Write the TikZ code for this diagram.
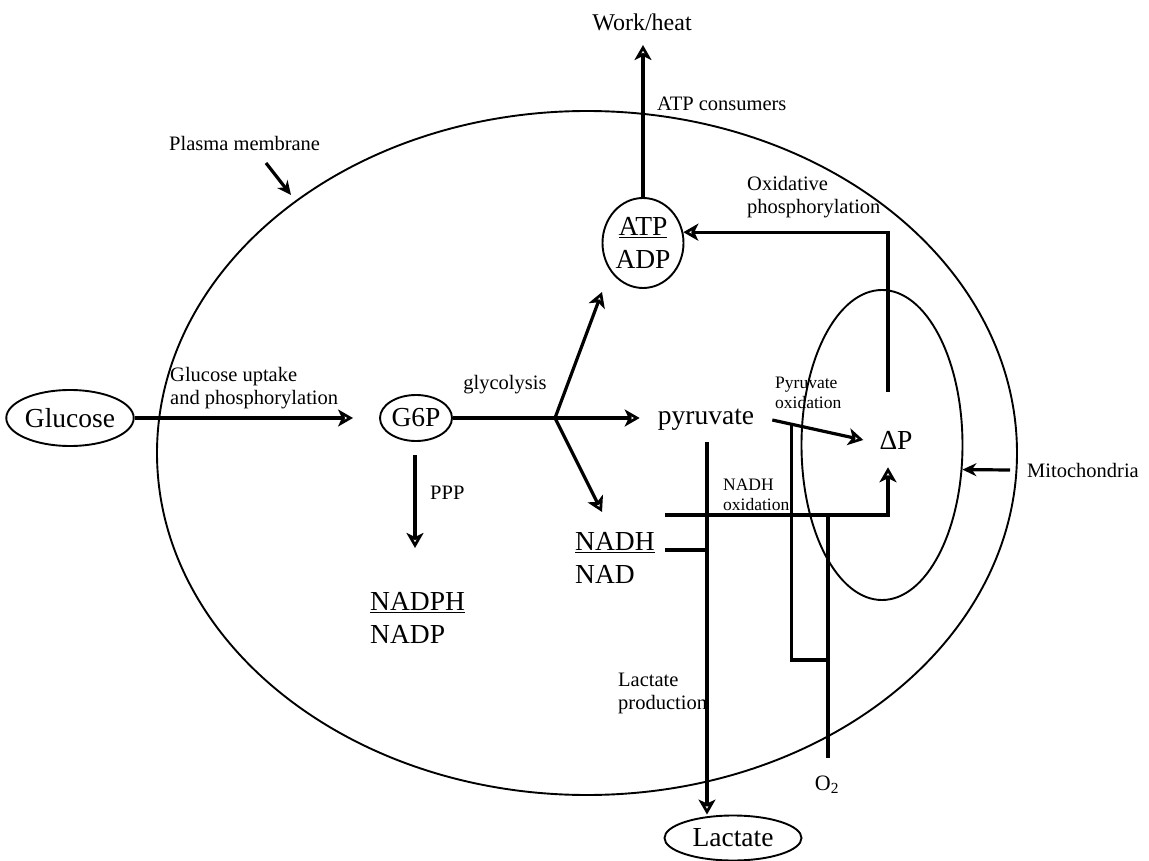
\documentclass[tikz,border=0pt]{standalone}
\usepackage{fontspec}
\setmainfont{Liberation Serif}
\usetikzlibrary{arrows.meta,shapes.geometric,calc}
\begin{document}
\begin{tikzpicture}[x=1pt,y=-1pt,
  ell/.style={draw, ellipse, line width=1.9pt, inner sep=0pt},
  big/.style={font=\fontsize{27.5}{33}\selectfont},
  lab/.style={font=\fontsize{20.5}{23}\selectfont, align=left, inner sep=0pt},
  sml/.style={font=\fontsize{17.5}{20}\selectfont, align=left, inner sep=0pt},
  conn/.style={line width=3.2pt},
  arr/.style={conn, -{Stealth[open,length=15pt,width=17pt,inset=4pt]}},
  farr/.style={conn, -{Stealth[length=14pt,width=13pt]}},
]
\useasboundingbox (0,0) rectangle (1149,861);

% membranes
\node[ell, minimum width=860pt, minimum height=684pt] (pm) at (587,453) {};
\node[ell, minimum width=161pt, minimum height=310pt] (mito) at (882,445) {};

% main nodes
\node[ell, big, minimum width=120pt, minimum height=56pt] (glc) at (70,418) {Glucose};
\node[ell, big, minimum width=72pt, minimum height=46pt] (g6p) at (416,418) {G6P};
\node[ell, big, align=center, minimum width=81pt, minimum height=90pt] (atp) at (643,243) {\underline{ATP}\\ADP};
\node[ell, big, minimum width=137pt, minimum height=45pt] (lac) at (733,838) {Lactate};
\node[big, inner xsep=18pt, inner ysep=0pt] (pyr) at (706,420) {pyruvate};
\node[big, inner xsep=16pt, inner ysep=18pt] (dp) at (896,440) {ΔP};
\node[big, align=left, anchor=west, inner sep=0pt] (nadph) at (370,618) {\underline{NADPH}\\NADP};
\node[big, align=left, anchor=west, inner sep=0pt] (nadh) at (575,558) {\underline{NADH}\\NAD};
\node[font=\fontsize{24}{26}\selectfont, inner sep=0pt] (work) at (642,22) {Work/heat};
\node[font=\fontsize{22}{24}\selectfont, inner sep=0pt] (o2) at (827,785) {O\textsubscript{2}};

% labels
\node[lab, anchor=west] (lupt) at (170,388) {Glucose uptake\\and phosphorylation};
\node[lab] (lgly) at (505,385) {glycolysis};
\node[lab, anchor=west] (lcons) at (657,104) {ATP consumers};
\node[lab, anchor=west] (loxp) at (747,197) {Oxidative\\phosphorylation};
\node[sml, anchor=west] (lpox) at (775,393) {Pyruvate\\oxidation};
\node[sml, anchor=west] (lnox) at (723,495) {NADH\\oxidation};
\node[lab, anchor=west] (lppp) at (430,493) {PPP};
\node[lab, anchor=west] (llac) at (618,693) {Lactate\\production};
\node[lab, anchor=west] (lpm) at (169,143) {Plasma membrane};
\node[lab, anchor=west] (lmito) at (1027,470) {Mitochondria};

% coordinates
\coordinate (br) at (555,418);
\coordinate (atpin) at (602,292);
\coordinate (nadhin) at (602,512);
\coordinate (ppp0) at (415,455);
\coordinate (ppp1) at (415,548);
\coordinate (wk) at (642,45);
\coordinate (opx) at (888,392);
\coordinate (nadhL) at (665,515);
\coordinate (nadhL2) at (665,550);
\coordinate (lac0) at (707,442);
\coordinate (po) at ($(pyr.east)!0.21!(dp.west)$);
\coordinate (o2j) at (828,660);
\coordinate (o2top) at (828,515);
\coordinate (o2bot) at (828,758);
\coordinate (ma) at (1010,470);
\coordinate (pa0) at (266,163);
\coordinate (pa1) at (291,195);

% connectors
\draw[arr, shorten >=26pt] (glc.east) -- (g6p.west);
\draw[conn] (g6p.east) -- (br);
\draw[arr] (br) -- (br -| pyr.west);
\draw[arr] (br) -- (atpin);
\draw[arr] (br) -- (nadhin);
\draw[arr] (ppp0) -- (ppp1);
\draw[arr] (atp.north) -- (atp.north |- wk);
\draw[arr] (opx) |- (atp.15);
\draw[arr] (pyr.east) -- (dp.west);
\draw[arr] (nadhL) -| (dp.south -| opx);
\draw[conn] (nadhL2) -- (nadhL2 -| lac0);
\draw[arr] (lac0) -- (lac0 |- lac.north);
\draw[conn] (po) |- (o2j);
\draw[conn] (o2bot) -- (o2top);
\draw[farr] (ma) -- (mito.-17);
\draw[farr] (pa0) -- (pa1);
\end{tikzpicture}
\end{document}
